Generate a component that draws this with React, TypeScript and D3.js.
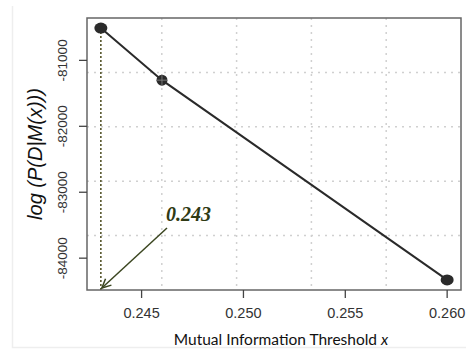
import React from "react";
import * as d3 from "d3";

const xValues = [0.243, 0.246, 0.26];
const yValues = [-80510, -81300, -84330];
const xTicks = [0.245, 0.25, 0.255, 0.26];
const yTicks = [-81000, -82000, -83000, -84000];
const xTickLabels = ["0.245", "0.250", "0.255", "0.260"];
const yTickLabels = ["-81000", "-82000", "-83000", "-84000"];
const markValue = 0.243;
const markLabel = "0.243";

const W = 466;
const H = 351;
const plot = { left: 87, right: 461, top: 18, bottom: 290 };

function pad(ext: [number, number]): [number, number] {
  const d = (ext[1] - ext[0]) * 0.04;
  return [ext[0] - d, ext[1] + d];
}

export default function App() {
  const x = d3.scaleLinear().domain(pad(d3.extent(xValues) as [number, number])).range([plot.left, plot.right]);
  const y = d3.scaleLinear().domain(pad(d3.extent(yValues) as [number, number])).range([plot.bottom, plot.top]);
  const pts = xValues.map((v, i) => [x(v), y(yValues[i])] as [number, number]);
  const line = d3.line()(pts) as string;
  const gw = (plot.right - plot.left) / 5;
  const gh = (plot.bottom - plot.top) / 5;
  const grid = d3.range(1, 5);
  const mx = x(markValue);
  const arrowStart: [number, number] = [167, 228];
  const arrowEnd: [number, number] = [mx + 1, plot.bottom - 2];
  const ang = Math.atan2(arrowEnd[1] - arrowStart[1], arrowEnd[0] - arrowStart[0]);
  const hl = 10;
  const ha = 0.45;
  const h1 = [arrowEnd[0] - hl * Math.cos(ang - ha), arrowEnd[1] - hl * Math.sin(ang - ha)];
  const h2 = [arrowEnd[0] - hl * Math.cos(ang + ha), arrowEnd[1] - hl * Math.sin(ang + ha)];
  const arrowCol = "#3b4620";

  return (
    <svg width={W} height={H} style={{ position: "absolute", left: 0, top: 0, background: "#fff" }}>
      <rect x={0} y={0} width={W} height={H} fill="#fff" />
      <path d={`M12.5,6 V347.5 H${W}`} fill="none" stroke="#eeeeee" strokeWidth={1.5} />
      {grid.map((i) => (
        <line key={"gx" + i} x1={plot.left + gw * i} x2={plot.left + gw * i} y1={plot.top} y2={plot.bottom}
          stroke="#d0d0d0" strokeWidth={1.5} strokeDasharray="2,5" />
      ))}
      {grid.map((i) => (
        <line key={"gy" + i} y1={plot.top + gh * i} y2={plot.top + gh * i} x1={plot.left} x2={plot.right}
          stroke="#d0d0d0" strokeWidth={1.5} strokeDasharray="2,5" />
      ))}
      <line x1={mx} x2={mx} y1={pts[0][1]} y2={plot.bottom} stroke="#55552a" strokeWidth={1.6} strokeDasharray="2,2" />
      <path d={line} fill="none" stroke="#2a2a2a" strokeWidth={2} />
      {pts.map((p, i) => (
        <ellipse key={"p" + i} cx={p[0]} cy={p[1]} rx={i === 1 ? 5.5 : 6.5} ry={i === 1 ? 5.5 : 5.5} fill="#2b2b2b" />
      ))}
      <line x1={pts[1][0] - 5} x2={pts[1][0] + 5} y1={pts[1][1]} y2={pts[1][1]} stroke="#888" strokeWidth={0.8} />
      <line x1={pts[1][0]} x2={pts[1][0]} y1={pts[1][1] - 5} y2={pts[1][1] + 5} stroke="#888" strokeWidth={0.8} />
      <rect x={plot.left} y={plot.top} width={plot.right - plot.left} height={plot.bottom - plot.top}
        fill="none" stroke="#666" strokeWidth={1.5} />
      <line x1={arrowStart[0]} y1={arrowStart[1]} x2={arrowEnd[0]} y2={arrowEnd[1]} stroke={arrowCol} strokeWidth={1.5} />
      <path d={`M${h1[0]},${h1[1]} L${arrowEnd[0]},${arrowEnd[1]} L${h2[0]},${h2[1]}`} fill="none" stroke={arrowCol} strokeWidth={1.5} />
      <text x={166} y={221} fontFamily="'Liberation Serif', serif" fontWeight="bold" fontStyle="italic" fontSize={20} fill="#2f3a14">
        {markLabel}
      </text>
      {xTicks.map((t, i) => (
        <g key={"xt" + i}>
          <line x1={x(t)} x2={x(t)} y1={plot.bottom} y2={plot.bottom + 8} stroke="#444" strokeWidth={1.3} />
          <text x={x(t)} y={318} textAnchor="middle" fontFamily="'Liberation Sans', Arial, sans-serif" fontSize={14.5} fill="#333">
            {xTickLabels[i]}
          </text>
        </g>
      ))}
      {yTicks.map((t, i) => (
        <g key={"yt" + i}>
          <line x1={plot.left - 8} x2={plot.left} y1={y(t)} y2={y(t)} stroke="#444" strokeWidth={1.3} />
          <text transform={`translate(67,${y(t)}) rotate(-90)`} textAnchor="middle" fontFamily="'Liberation Sans', Arial, sans-serif" fontSize={13.5} fill="#333">
            {yTickLabels[i]}
          </text>
        </g>
      ))}
      <text transform={`translate(42,${(plot.top + plot.bottom) / 2}) rotate(-90)`} textAnchor="middle"
        fontFamily="'Liberation Sans', Arial, sans-serif" fontStyle="italic" fontSize={20} fill="#111">
        log (P(D|M(x)))
      </text>
      <text x={281} y={345} textAnchor="middle" fontFamily="Lato, 'Open Sans', sans-serif" fontSize={15.5} fill="#111">
        Mutual Information Threshold <tspan fontStyle="italic">x</tspan>
      </text>
    </svg>
  );
}
